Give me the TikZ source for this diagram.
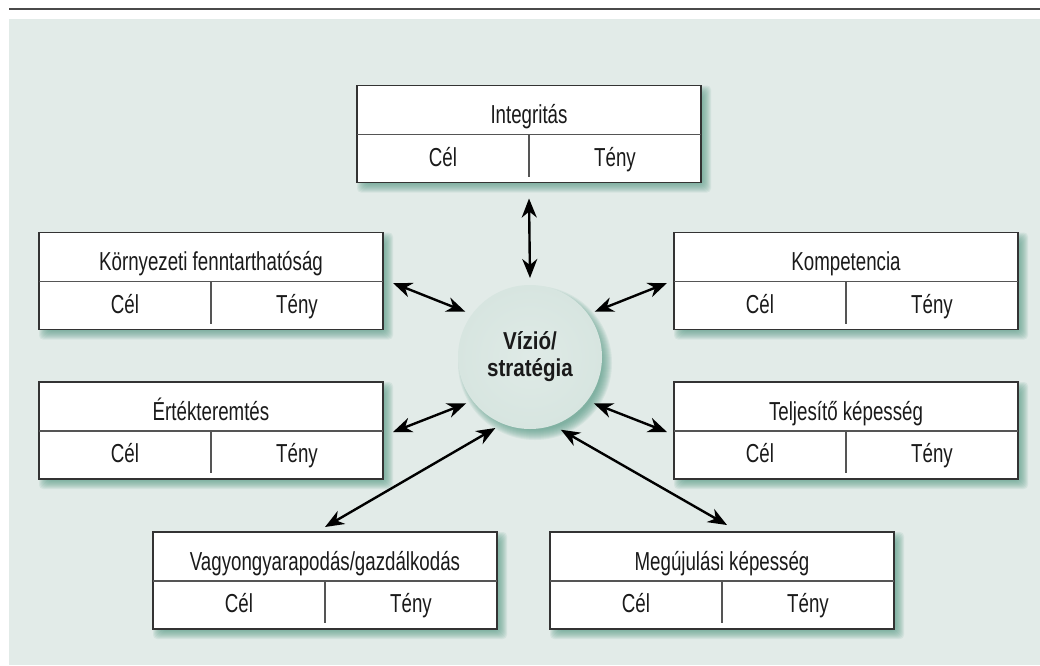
\documentclass[tikz,border=0pt]{standalone}
\usepackage{fontspec}
\setmainfont[FakeStretch=0.72]{Liberation Sans}
\newfontfamily\discfont[FakeStretch=0.84]{Liberation Sans}
\usetikzlibrary{arrows.meta}

\definecolor{panelbg}{HTML}{E2EBE8}
\definecolor{ruleline}{HTML}{4A4A4A}
\definecolor{shadowcol}{HTML}{5A9C88}
\definecolor{boxline}{HTML}{333333}
\definecolor{splitline}{HTML}{555555}
\definecolor{discfill}{HTML}{D7E5E0}
\definecolor{inktext}{HTML}{1A1A1A}

\tikzset{
  kbox/.style={draw=boxline, line width=1.6pt, fill=white, rectangle,
    minimum width=344pt, minimum height=97pt, inner sep=0pt, outer sep=0pt},
  splitrule/.style={draw=splitline, line width=1.3pt},
  headtext/.style={font=\fontsize{26}{30}\selectfont, text=inktext, anchor=base, inner sep=0pt},
  celltext/.style={font=\fontsize{26}{30}\selectfont, text=inktext, anchor=base, inner sep=0pt},
  biarrow/.style={draw=black, line width=2.4pt,
    {Stealth[length=19pt,width=15pt,inset=6pt]}-{Stealth[length=19pt,width=15pt,inset=6pt]}},
}

% one target box: name, centre x, centre y, title
\newcommand{\kpibox}[4]{%
  \begin{scope}[shift={(#2,#3)}]
    \foreach \r in {-4,...,5}{%
      \fill[shadowcol, opacity=0.11, rounded corners=4pt]
        (-172+5-\r, -48.5+5-\r) rectangle (172+5+\r, 48.5+5+\r);}
    \node[kbox] (#1) at (0,0) {};
    \draw[splitrule] ([yshift=-0.5pt]#1.west) -- ([yshift=-0.5pt]#1.east);
    \draw[splitrule] (0,0.5) -- (0,42.5);
    \node[headtext] (#1-title) at (0,-10.5) {#4};
    \node[celltext] (#1-cel)  at (-86,32) {Cél};
    \node[celltext] (#1-teny) at (86,32) {Tény};
  \end{scope}}

\begin{document}
\begin{tikzpicture}[x=1pt, y=-1pt]
  \useasboundingbox (0,0) rectangle (1040,665);

  % header rule and panel
  \fill[ruleline] (9,7.8) rectangle (1040,10.2);
  \fill[panelbg] (9,19) rectangle (1040,665);

  % central disc with soft shadow
  \foreach \r in {-5,...,5}{%
    \fill[shadowcol, opacity=0.1] (535,363) circle ({72+\r});}
  \node[circle, inner color=discfill!80!white, outer color=discfill,
        minimum size=144pt, inner sep=0pt, outer sep=7pt,
        font=\discfont\fontsize{24.5}{27}\selectfont\bfseries, text=inktext, align=center]
        (vis) at (530,357) {Vízió/\\stratégia};

  % surrounding boxes
  \kpibox{integ}{529}{134}{Integritás}
  \kpibox{korny}{211}{281}{Környezeti fenntarthatóság}
  \kpibox{komp}{846}{281}{Kompetencia}
  \kpibox{ertek}{211}{430.5}{Értékteremtés}
  \kpibox{telj}{846}{430.5}{Teljesítő képesség}
  \kpibox{vagy}{325}{580.5}{Vagyongyarapodás/gazdálkodás}
  \kpibox{megu}{722}{580.5}{Megújulási képesség}

  % two-way links
  \draw[biarrow] (vis.90) -- ([shift={(0,16)}]integ.south);
  \draw[biarrow] (vis.145.5) -- ([shift={(10,2)}]korny.east);
  \draw[biarrow] (vis.35.3) -- ([shift={(-7,2)}]komp.west);
  \draw[biarrow] (vis.216.4) -- ([shift={(10,1.5)}]ertek.east);
  \draw[biarrow] (vis.-36.4) -- ([shift={(-7,1.5)}]telj.west);
  \draw[biarrow] (vis.244.4) -- ([shift={(0,-5)}]vagy.north);
  \draw[biarrow] (vis.-67.7) -- ([shift={(5,-7)}]megu.north);
\end{tikzpicture}
\end{document}
